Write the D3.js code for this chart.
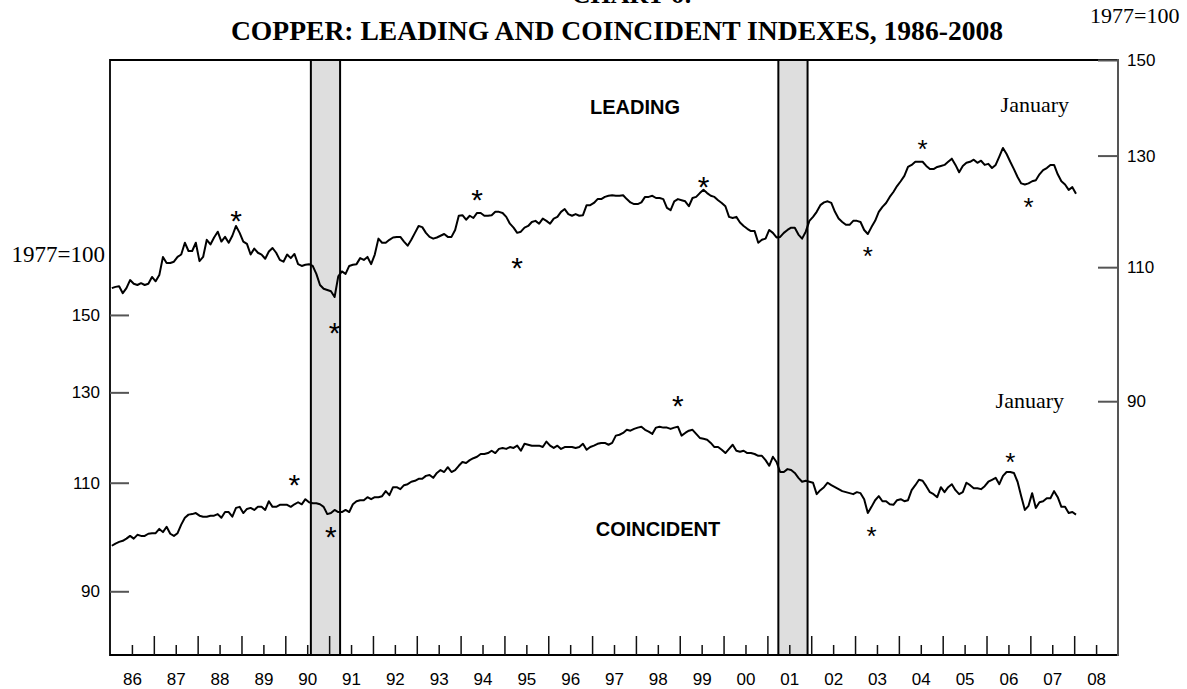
<!DOCTYPE html>
<html>
<head>
<meta charset="utf-8">
<script src="https://cdn.jsdelivr.net/npm/d3@7"></script>
<style>
  body { margin: 0; background: #fff; }
  svg { display: block; }
</style>
</head>
<body>
<div id="chart"></div>
<script>
'use strict';

// monthly index values, 1977=100, Jan 1986 .. Jan 2008
var leading = [
  106.6, 106.8, 106.9, 105.8, 106.6, 107.9, 107.3, 107.1, 107.4, 107.1, 107.3, 108.4,
  107.7, 108.7, 111.7, 110.7, 110.7, 110.9, 111.7, 112.1, 114.1, 112.7, 112.7, 114.1,
  111.0, 111.7, 114.6, 113.8, 115.0, 116.0, 114.3, 115.1, 114.1, 115.3, 117.0, 115.8,
  114.3, 113.9, 112.1, 113.1, 112.4, 112.1, 111.4, 112.6, 113.2, 112.4, 111.2, 110.9,
  112.1, 111.5, 112.2, 110.5, 110.2, 110.4, 110.5, 110.2, 108.9, 107.1, 106.5, 106.3,
  106.1, 105.2, 108.5, 109.3, 108.9, 110.2, 110.4, 110.5, 111.5, 111.2, 111.7, 110.5,
  112.1, 114.8, 114.1, 114.1, 114.6, 115.0, 115.1, 115.1, 114.3, 113.6, 114.6, 115.8,
  117.0, 116.8, 115.8, 115.1, 114.8, 115.0, 115.3, 115.6, 115.1, 115.1, 116.3, 118.8,
  118.9, 118.1, 118.8, 118.4, 119.3, 119.3, 118.8, 118.8, 118.9, 119.5, 119.5, 119.3,
  118.6, 117.4, 116.7, 115.8, 116.0, 116.7, 117.0, 117.7, 117.9, 117.4, 118.3, 117.9,
  117.4, 118.3, 118.6, 119.5, 120.0, 119.1, 118.8, 119.1, 118.8, 118.9, 120.7, 120.7,
  121.1, 121.8, 121.8, 122.2, 122.4, 122.5, 122.4, 122.4, 122.5, 121.8, 121.2, 120.9,
  120.9, 121.2, 122.2, 122.2, 122.4, 122.0, 122.0, 121.8, 120.2, 119.8, 121.4, 121.8,
  121.6, 121.4, 120.5, 122.0, 122.2, 122.9, 123.5, 122.9, 122.4, 122.2, 121.6, 121.1,
  120.5, 118.6, 118.4, 118.6, 117.6, 117.0, 116.5, 116.1, 116.1, 114.1, 114.6, 114.8,
  116.3, 115.8, 115.0, 115.1, 115.8, 116.3, 116.7, 116.7, 115.5, 114.8, 116.0, 117.9,
  118.6, 119.5, 120.7, 121.2, 121.4, 121.1, 119.5, 118.3, 117.7, 117.2, 117.2, 117.9,
  117.9, 117.7, 116.3, 115.6, 116.8, 117.9, 119.5, 120.4, 121.1, 122.2, 123.1, 124.2,
  125.1, 126.1, 127.8, 128.2, 128.8, 128.8, 128.8, 128.0, 127.4, 127.4, 127.8, 128.0,
  128.2, 128.8, 129.4, 128.2, 126.8, 128.0, 128.6, 128.8, 129.2, 128.6, 129.0, 128.2,
  128.4, 127.6, 128.2, 129.8, 131.5, 130.3, 128.8, 127.4, 125.9, 124.7, 124.5, 124.7,
  125.1, 125.3, 126.4, 127.2, 127.6, 128.2, 128.2, 126.4, 125.1, 124.5, 123.5, 124.0,
  122.8
];

var coincident = [
  97.9, 98.3, 98.6, 98.8, 99.2, 99.7, 99.2, 99.9, 99.7, 99.7, 100.1, 100.2,
  100.2, 101.0, 100.4, 101.4, 100.1, 99.7, 100.2, 101.8, 103.1, 103.7, 103.8, 104.0,
  103.5, 103.3, 103.3, 103.5, 103.5, 103.8, 103.1, 104.2, 104.2, 103.3, 105.0, 105.2,
  104.0, 104.8, 105.0, 104.6, 105.2, 105.2, 104.6, 106.3, 105.2, 105.2, 105.6, 105.6,
  105.6, 105.2, 105.7, 106.1, 105.7, 106.7, 106.1, 105.9, 105.9, 105.7, 105.2, 103.8,
  104.0, 104.6, 104.2, 104.2, 104.6, 104.2, 105.7, 106.3, 106.5, 106.5, 107.1, 106.7,
  107.1, 107.1, 107.3, 108.3, 107.5, 109.1, 109.1, 108.7, 109.5, 109.7, 110.2, 110.4,
  110.8, 110.8, 111.4, 111.6, 111.0, 112.0, 112.6, 112.2, 113.2, 112.2, 112.6, 113.5,
  114.3, 114.1, 114.7, 115.1, 115.4, 116.0, 116.0, 116.2, 116.7, 116.2, 117.1, 117.3,
  117.1, 117.5, 117.3, 117.8, 116.7, 118.2, 118.0, 117.8, 117.8, 117.8, 117.5, 118.7,
  117.8, 117.3, 117.8, 117.1, 117.5, 117.5, 117.5, 117.3, 117.5, 118.2, 116.9, 117.5,
  117.8, 118.2, 118.4, 118.4, 118.0, 118.4, 120.0, 120.2, 120.6, 121.3, 121.1, 121.5,
  121.8, 122.0, 121.3, 120.9, 120.4, 121.8, 122.0, 121.8, 121.8, 121.5, 121.8, 122.0,
  120.0, 120.6, 121.1, 121.3, 120.4, 119.5, 119.3, 119.1, 118.4, 117.5, 117.5, 116.9,
  116.2, 117.1, 118.0, 116.7, 116.5, 116.7, 116.2, 116.2, 116.0, 115.6, 115.6, 114.7,
  113.5, 115.4, 114.3, 112.2, 112.2, 112.8, 112.6, 112.0, 111.0, 110.2, 110.4, 110.2,
  110.0, 107.7, 108.5, 109.1, 110.0, 109.5, 109.1, 108.7, 108.3, 108.1, 107.9, 107.7,
  108.1, 107.9, 106.7, 104.0, 105.2, 106.5, 107.3, 106.3, 106.3, 105.7, 105.6, 106.5,
  106.7, 106.3, 106.5, 108.5, 109.5, 110.6, 110.4, 109.3, 108.1, 107.7, 107.1, 109.1,
  108.1, 109.1, 109.7, 108.5, 107.7, 108.1, 110.0, 109.5, 108.9, 108.9, 108.7, 109.3,
  110.2, 110.6, 111.0, 109.7, 111.4, 112.2, 112.2, 112.0, 110.2, 107.3, 104.6, 105.4,
  107.9, 105.0, 106.1, 106.3, 106.9, 106.9, 108.3, 107.1, 105.2, 105.2, 104.0, 104.2,
  103.7
];

var startYear = 1986;
var yearLabels = ['86', '87', '88', '89', '90', '91', '92', '93', '94', '95', '96', '97',
                  '98', '99', '00', '01', '02', '03', '04', '05', '06', '07', '08'];
var leadTicks = [150, 130, 110, 90];
var coinTicks = [150, 130, 110, 90];

// recessions, as decimal years (Jul 1990 - Mar 1991, Mar 2001 - Nov 2001)
var recessions = [[1990 + 7 / 12, 1991 + 3 / 12], [2001 + 3 / 12, 2001 + 11 / 12]];

// turning points (month index from Jan 1986) marked with an asterisk
var leadTurns = [34, 61, 100, 111, 162, 207, 222, 251];
var coinTurns = [50, 60, 155, 208, 246];

// where each asterisk sits relative to the line (px) and its size
var leadMarkStyle = [[-13, 30], [28, 30], [-21, 30], [28, 30], [-10, 30], [16, 26], [-19, 26], [17, 26]];
var coinMarkStyle = [[-27, 30], [16, 30], [-28, 30], [23, 26], [-16, 26]];

var W = 1187, H = 689;
var plot = {left: 110, top: 60, right: 1118, bottom: 655};

var sans = '"Liberation Sans", Arial, sans-serif';
var serif = '"Liberation Serif", "Times New Roman", serif';

var svg = d3.select('#chart').append('svg')
    .attr('width', W)
    .attr('height', H);

var x = d3.scaleLinear()
    .domain([startYear, startYear + yearLabels.length])
    .range([plot.left, plot.right]);

// both scales are ratio (log) scales, with different spreads
var yLead = d3.scaleLog()
    .domain([61.55, 150])
    .range([plot.bottom, plot.top]);

var yCoin = d3.scaleLog()
    .domain([80, 240.3])
    .range([plot.bottom, plot.top]);

function monthX(i) { return x(startYear + (i + 0.5) / 12); }

// recession bands
recessions.forEach(function(r){
  svg.append('rect')
      .attr('x', x(r[0]))
      .attr('y', plot.top)
      .attr('width', x(r[1]) - x(r[0]))
      .attr('height', plot.bottom - plot.top)
      .attr('fill', '#dedede');
  r.forEach(function(d){
    svg.append('line')
        .attr('x1', x(d)).attr('x2', x(d))
        .attr('y1', plot.top).attr('y2', plot.bottom)
        .attr('stroke', '#000')
        .attr('stroke-width', 2);
  });
});

// frame
svg.append('path')
    .attr('d', 'M' + plot.right + ',' + plot.top + 'H' + plot.left + 'V' + plot.bottom + 'H' + plot.right)
    .attr('fill', 'none')
    .attr('stroke', '#000')
    .attr('stroke-width', 1.8);
svg.append('line')
    .attr('x1', plot.right).attr('x2', plot.right)
    .attr('y1', plot.top - 1).attr('y2', plot.bottom + 1)
    .attr('stroke', '#555')
    .attr('stroke-width', 2);

// left axis (coincident)
var leftAxis = svg.append('g')
    .attr('transform', 'translate(' + plot.left + ',0)')
    .call(d3.axisLeft(yCoin).tickValues(coinTicks).tickFormat(d3.format('d'))
      .tickSize(-19).tickPadding(10));

// right axis (leading)
var rightAxis = svg.append('g')
    .attr('transform', 'translate(' + plot.right + ',0)')
    .call(d3.axisRight(yLead).tickValues(leadTicks).tickFormat(d3.format('d'))
      .tickSize(-20).tickPadding(9));

[leftAxis, rightAxis].forEach(function(g){
  g.select('.domain').remove();
  g.selectAll('.tick line').attr('stroke', '#555').attr('stroke-width', 2);
  g.selectAll('.tick text')
      .attr('fill', '#000')
      .style('font-family', sans)
      .style('font-size', '17px');
});

// bottom: long ticks on year boundaries, short ticks + labels mid-year
var yearStarts = d3.range(1, yearLabels.length).map(function(i){ return startYear + i; });
var yearMids = yearLabels.map(function(d, i){ return startYear + i + 0.5; });

var bLong = svg.append('g')
    .attr('transform', 'translate(0,' + plot.bottom + ')')
    .call(d3.axisBottom(x).tickValues(yearStarts).tickFormat('').tickSize(-19));

var bShort = svg.append('g')
    .attr('transform', 'translate(0,' + plot.bottom + ')')
    .call(d3.axisBottom(x).tickValues(yearMids)
      .tickFormat(function(d, i){ return yearLabels[i]; })
      .tickSize(-10).tickPadding(18));

[bLong, bShort].forEach(function(g){
  g.select('.domain').remove();
  g.selectAll('.tick line').attr('stroke', '#111').attr('stroke-width', 1.5);
  g.selectAll('.tick text')
      .attr('fill', '#000')
      .style('font-family', sans)
      .style('font-size', '17px');
});

// series lines
var lineLead = d3.line()
    .x(function(d, i){ return monthX(i); })
    .y(function(d){ return yLead(d); });

var lineCoin = d3.line()
    .x(function(d, i){ return monthX(i); })
    .y(function(d){ return yCoin(d); });

svg.append('path')
    .datum(leading)
    .attr('d', lineLead)
    .attr('fill', 'none')
    .attr('stroke', '#000')
    .attr('stroke-width', 2)
    .attr('stroke-linejoin', 'round');

svg.append('path')
    .datum(coincident)
    .attr('d', lineCoin)
    .attr('fill', 'none')
    .attr('stroke', '#000')
    .attr('stroke-width', 2)
    .attr('stroke-linejoin', 'round');

// asterisks at turning points
function marks(turns, styles, values, y){
  svg.append('g').selectAll('text')
      .data(turns)
    .enter().append('text')
      .attr('x', function(m){ return monthX(m); })
      .attr('y', function(m, i){
        var s = styles[i];
        return y(values[m]) + s[0] + 0.585 * s[1];
      })
      .attr('text-anchor', 'middle')
      .style('font-family', sans)
      .style('font-size', function(m, i){ return styles[i][1] + 'px'; })
      .text('*');
}
marks(leadTurns, leadMarkStyle, leading, yLead);
marks(coinTurns, coinMarkStyle, coincident, yCoin);

// labels
svg.append('text')
    .attr('x', 635).attr('y', 114)
    .attr('text-anchor', 'middle')
    .style('font-family', sans).style('font-weight', 'bold').style('font-size', '20px')
    .text('LEADING');

svg.append('text')
    .attr('x', 658).attr('y', 536)
    .attr('text-anchor', 'middle')
    .style('font-family', sans).style('font-weight', 'bold').style('font-size', '20px')
    .text('COINCIDENT');

svg.append('text')
    .attr('x', 1069).attr('y', 112)
    .attr('text-anchor', 'end')
    .style('font-family', serif).style('font-size', '22px')
    .text('January');

svg.append('text')
    .attr('x', 1064).attr('y', 408)
    .attr('text-anchor', 'end')
    .style('font-family', serif).style('font-size', '22px')
    .text('January');

svg.append('text')
    .attr('x', 105).attr('y', 262)
    .attr('text-anchor', 'end')
    .style('font-family', serif).style('font-size', '23px')
    .text('1977=100');

svg.append('text')
    .attr('x', 1090).attr('y', 23)
    .style('font-family', serif).style('font-size', '22px')
    .text('1977=100');

// chart number sits mostly above the page edge, as in the source
svg.append('text')
    .attr('x', 632).attr('y', 3)
    .attr('text-anchor', 'middle')
    .style('font-family', serif).style('font-weight', 'bold').style('font-size', '26px')
    .text('CHART 6:');

svg.append('text')
    .attr('x', 617).attr('y', 40)
    .attr('text-anchor', 'middle')
    .style('font-family', serif).style('font-weight', 'bold').style('font-size', '27.6px')
    .text('COPPER: LEADING AND COINCIDENT INDEXES, 1986-2008');
</script>
</body>
</html>
